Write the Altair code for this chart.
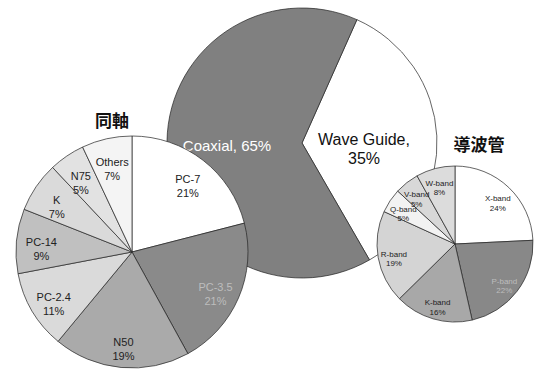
import math
import altair as alt
import pandas as pd

# ---- data ----
main_names = ["Wave Guide", "Coaxial"]
main_values = [35, 65]

coax_names = ["PC-7", "PC-3.5", "N50", "PC-2.4", "PC-14", "K", "N75", "Others"]
coax_values = [21, 21, 19, 11, 9, 7, 5, 7]

wg_names = ["X-band", "P-band", "K-band", "R-band", "Q-band", "V-band", "W-band"]
wg_values = [24, 22, 16, 19, 5, 5, 8]

# ---- styles ----
main_colors = ["#ffffff", "#808080"]
coax_colors = ["#ffffff", "#8a8a8a", "#aaaaaa", "#dadada", "#c0c0c0", "#dadada", "#e2e2e2", "#f4f4f4"]
wg_colors = ["#ffffff", "#888888", "#a8a8a8", "#d4d4d4", "#f2f2f2", "#d8d8d8", "#dcdcdc"]

W, H = 536, 369
TWO_PI = 2 * math.pi


def frame(names, values):
    return pd.DataFrame({
        "name": names,
        "value": values,
        "idx": list(range(len(names))),
        "label": [f"{n}\n{v}%" for n, v in zip(names, values)],
    })


def theta_enc(start_deg):
    a = math.radians(start_deg)
    return alt.Theta("value:Q", stack=True, scale=alt.Scale(range=[a, a + TWO_PI]))


def pie(df, colors, cx, cy, r, start_deg=0):
    return alt.Chart(df).mark_arc(outerRadius=r, stroke="#222", strokeWidth=0.7).encode(
        x=alt.value(cx), y=alt.value(cy),
        theta=theta_enc(start_deg),
        color=alt.Color("name:N", scale=alt.Scale(domain=list(df["name"]), range=colors), legend=None),
        order=alt.Order("idx:Q"),
    )


def labels(df, cx, cy, r, size, line_h, color):
    return alt.Chart(df).mark_text(
        radius=r, fontSize=size, font="Liberation Sans", lineBreak="\n", lineHeight=line_h,
        align="center", baseline="middle", color=color,
    ).encode(
        x=alt.value(cx), y=alt.value(cy),
        theta=theta_enc(0),
        order=alt.Order("idx:Q"),
        text="label:N",
        opacity=alt.value(1),
    )


def labels_pair(df, cx, cy, r, size, line_h, light_names):
    dark = labels(df, cx, cy, r, size, line_h, "#222222").transform_calculate(
        show=alt.expr.indexof(light_names, alt.datum.name) < 0
    )
    # hide light-coloured names in the dark layer and vice versa via text blanking
    dark = dark.encode(text=alt.condition(alt.FieldOneOfPredicate(field="name", oneOf=light_names),
                                          alt.value(""), alt.Text("label:N")))
    light = labels(df, cx, cy, r, size, line_h, "#bdbdbd").encode(
        text=alt.condition(alt.FieldOneOfPredicate(field="name", oneOf=light_names),
                           alt.Text("label:N"), alt.value("")))
    return dark, light


# big pie
mdf = pd.DataFrame({
    "name": main_names, "value": main_values, "idx": [0, 1],
    "label": [f"{main_names[0]},\n{main_values[0]}%", f"{main_names[1]}, {main_values[1]}%"],
})
BCX, BCY, BR, BSTART = 302, 143, 135, 24
big_arc = pie(mdf, main_colors, BCX, BCY, BR, BSTART)
big_wg = alt.Chart(mdf).transform_filter(alt.datum.name == "Wave Guide").mark_text(
    x=BCX + 62, y=BCY - 3, fontSize=16, font="Liberation Sans", lineBreak="\n", lineHeight=19, color="#111"
).encode(text="label:N")
big_cx = alt.Chart(mdf).transform_filter(alt.datum.name == "Coaxial").mark_text(
    x=BCX - 75, y=BCY + 3, fontSize=15, font="Liberation Sans", color="#ffffff"
).encode(text="label:N")
big = alt.layer(big_arc, big_wg, big_cx)

# coaxial pie
cdf = frame(coax_names, coax_values)
cd, cl = labels_pair(cdf, 132, 252, 91, 11, 14, ["PC-3.5"])
left = alt.layer(pie(cdf, coax_colors, 132, 252, 116), cd, cl)

# waveguide pie
wdf = frame(wg_names, wg_values)
wd, wl = labels_pair(wdf, 455, 244, 62, 8, 9.5, ["P-band"])
right = alt.layer(pie(wdf, wg_colors, 455, 244, 78), wd, wl)

# titles
titles_df = pd.DataFrame({"t": ["同軸", "導波管"]})
t1 = alt.Chart(titles_df).transform_filter(alt.datum.t == "同軸").mark_text(
    x=112, y=122, fontSize=17, font="Noto Sans CJK JP", fontWeight="bold", color="#111"
).encode(text="t:N")
t2 = alt.Chart(titles_df).transform_filter(alt.datum.t == "導波管").mark_text(
    x=479, y=146, fontSize=17, font="Noto Sans CJK JP", fontWeight="bold", color="#111"
).encode(text="t:N")

chart = alt.layer(big, left, right, t1, t2).resolve_scale(
    theta="independent", color="independent"
).properties(
    width=W, height=H, padding=0, autosize="none", background="white"
).configure_view(stroke=None)

chart.save("out.html", embed_options={"renderer": "svg", "actions": False})
